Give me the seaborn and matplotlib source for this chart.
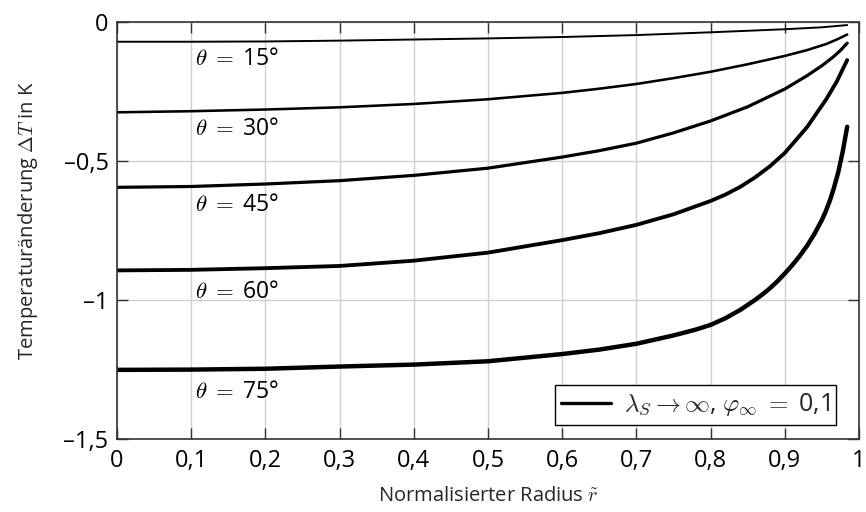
import matplotlib
matplotlib.use("Agg")
import matplotlib.pyplot as plt
from matplotlib.lines import Line2D
import seaborn as sns
import pandas as pd

# values
r_15 = [0.0, 0.1, 0.2, 0.3, 0.4, 0.5, 0.6, 0.7, 0.8, 0.9, 0.95, 0.984]
dT_15 = [-0.071, -0.071, -0.070, -0.067, -0.063, -0.059, -0.054, -0.047, -0.037, -0.026, -0.019, -0.011]

r_30 = [0.0, 0.1, 0.2, 0.3, 0.4, 0.5, 0.6, 0.65, 0.7, 0.75, 0.8, 0.85, 0.9, 0.93, 0.956, 0.97, 0.984]
dT_30 = [-0.325, -0.321, -0.315, -0.307, -0.295, -0.278, -0.255, -0.240, -0.223, -0.202,
         -0.179, -0.152, -0.122, -0.101, -0.079, -0.063, -0.045]

r_45 = [0.0, 0.1, 0.2, 0.3, 0.4, 0.5, 0.6, 0.65, 0.7, 0.75, 0.8, 0.85, 0.9, 0.93, 0.95, 0.965, 0.975, 0.984]
dT_45 = [-0.595, -0.592, -0.583, -0.571, -0.552, -0.526, -0.486, -0.463, -0.436, -0.399,
         -0.356, -0.305, -0.241, -0.193, -0.157, -0.126, -0.102, -0.076]

r_60 = [0.0, 0.1, 0.2, 0.3, 0.4, 0.5, 0.6, 0.65, 0.7, 0.75, 0.8, 0.82, 0.84, 0.86, 0.88, 0.9,
        0.93, 0.956, 0.97, 0.984]
dT_60 = [-0.894, -0.892, -0.886, -0.878, -0.859, -0.830, -0.785, -0.760, -0.730, -0.692,
         -0.644, -0.621, -0.593, -0.559, -0.519, -0.471, -0.378, -0.277, -0.214, -0.137]

r_75 = [0.0, 0.1, 0.2, 0.3, 0.4, 0.5, 0.6, 0.65, 0.7, 0.75, 0.78, 0.8, 0.82, 0.84, 0.86, 0.87,
        0.88, 0.89, 0.9, 0.91, 0.92, 0.93, 0.94, 0.95, 0.955, 0.961, 0.966, 0.972, 0.978, 0.984]
dT_75 = [-1.252, -1.251, -1.248, -1.240, -1.233, -1.221, -1.195, -1.179, -1.158, -1.128,
         -1.107, -1.090, -1.066, -1.036, -1.000, -0.980, -0.958, -0.933, -0.905, -0.875,
         -0.842, -0.805, -0.762, -0.712, -0.682, -0.640, -0.598, -0.540, -0.466, -0.377]

thetas = [15, 30, 45, 60, 75]
label_y = [-0.133, -0.385, -0.658, -0.971, -1.331]

x_ticks = [0, 0.1, 0.2, 0.3, 0.4, 0.5, 0.6, 0.7, 0.8, 0.9, 1]
x_tick_labels = ["0", "0,1", "0,2", "0,3", "0,4", "0,5", "0,6", "0,7", "0,8", "0,9", "1"]
y_ticks = [0, -0.5, -1, -1.5]
y_tick_labels = ["0", "\u20130,5", "\u20131", "\u20131,5"]

curves = {15: (r_15, dT_15), 30: (r_30, dT_30), 45: (r_45, dT_45),
          60: (r_60, dT_60), 75: (r_75, dT_75)}
rows = []
for th, (rs, ds) in curves.items():
    for r, d in zip(rs, ds):
        rows.append({"r": r, "dT": d, "theta": th})
df = pd.DataFrame(rows)

sns.set_theme(style="ticks")
plt.rcParams["font.family"] = ["Open Sans", "DejaVu Sans"]
plt.rcParams["mathtext.fontset"] = "cm"

fig = plt.figure(figsize=(8.66, 5.12), dpi=100)
ax = fig.add_axes([0.135, 0.143, 0.857, 0.814])

sns.lineplot(data=df, x="r", y="dT", hue="theta", size="theta",
             palette=["black"] * 5, sizes=(1.4, 3.2), estimator=None,
             sort=True, legend=False, ax=ax)
for ln in ax.get_lines():
    ln.set_solid_joinstyle("round")

for th, yl in zip(thetas, label_y):
    ax.text(0.105, yl, r"$\theta\;=\;$" + f"{th}\u00b0", fontsize=16.5,
            va="center", ha="left", color="black")

ax.set_xlim(0, 1)
ax.set_ylim(-1.5, 0)
ax.set_xticks(x_ticks)
ax.set_xticklabels(x_tick_labels, fontsize=17)
ax.set_yticks(y_ticks)
ax.set_yticklabels(y_tick_labels, fontsize=17)
ax.grid(True, color="#d0d0d0", linewidth=1.0)
ax.set_axisbelow(True)
ax.tick_params(direction="in", length=8, width=1.0, color="#333333",
               top=True, right=True, labelcolor="black")
ax.tick_params(axis="x", pad=7)
ax.tick_params(axis="y", pad=6)
for sp in ax.spines.values():
    sp.set_visible(True)
    sp.set_color("#333333")
    sp.set_linewidth(1.2)

ax.set_xlabel(r"Normalisierter Radius $\tilde{r}$", fontsize=14.5, labelpad=10)
ax.set_ylabel(r"Temperaturänderung $\Delta T$ in K", fontsize=14.5)
ax.yaxis.set_label_coords(-0.104, 0.523)

handle = Line2D([], [], color="black", linewidth=2.4)
leg = ax.legend([handle], [r"$\lambda_S \rightarrow \infty$, $\varphi_\infty\;=\;$0,1"],
                loc="lower right", bbox_to_anchor=(0.969, 0.034),
                borderaxespad=0, fontsize=18, handlelength=2.0,
                fancybox=False, framealpha=1, edgecolor="black",
                borderpad=0.25, handletextpad=0.5)
leg.get_frame().set_linewidth(1.0)

fig.savefig("out.png", dpi=100)
